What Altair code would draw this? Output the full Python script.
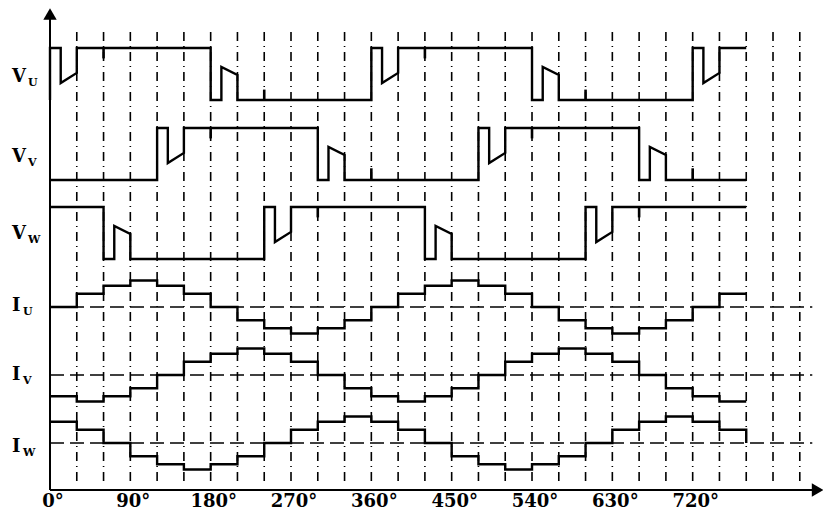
import altair as alt
import pandas as pd

# ---------------- data ----------------
# Phase voltages: breakpoints (electrical angle in degrees) and normalised level (0 = low, 2 = high)
vu_ang = [0, 0, 12, 12, 30, 30, 180, 180, 192, 192, 210, 210, 360, 360, 372, 372, 390, 390,
          540, 540, 552, 552, 570, 570, 720, 720, 732, 732, 750, 750, 780]
vu_lvl = [0, 2, 2, 0.65, 1.04, 2, 2, 0, 0, 1.27, 0.96, 0, 0, 2, 2, 0.65, 1.04, 2,
          2, 0, 0, 1.27, 0.96, 0, 0, 2, 2, 0.65, 1.04, 2, 2]

vv_ang = [0, 120, 120, 132, 132, 150, 150, 300, 300, 312, 312, 330, 330,
          480, 480, 492, 492, 510, 510, 660, 660, 672, 672, 690, 690, 780]
vv_lvl = [0, 0, 2, 2, 0.65, 1.04, 2, 2, 0, 0, 1.27, 0.96, 0,
          0, 2, 2, 0.65, 1.04, 2, 2, 0, 0, 1.27, 0.96, 0, 0]

vw_ang = [0, 60, 60, 72, 72, 90, 90, 240, 240, 252, 252, 270, 270,
          420, 420, 432, 432, 450, 450, 600, 600, 612, 612, 630, 630, 780]
vw_lvl = [2, 2, 0, 0, 1.27, 0.96, 0, 0, 2, 2, 0.65, 1.04, 2,
          2, 0, 0, 1.27, 0.96, 0, 0, 2, 2, 0.65, 1.04, 2, 2]

# short marks on the voltage traces: (angle, from level, to level)
vu_marks = [(60, 2, 1.6), (240, 0, 0.4), (420, 2, 1.6), (600, 0, 0.4)]
vv_marks = [(180, 2, 1.6), (360, 0, 0.45), (540, 2, 1.6), (720, 0, 0.45)]
vw_marks = [(300, 2, 1.6), (660, 2, 1.6)]

# Phase currents: six-step levels, one per 30 degree segment starting at these angles
seg_start = [0, 30, 60, 90, 120, 150, 180, 210, 240, 270, 300, 330, 360,
             390, 420, 450, 480, 510, 540, 570, 600, 630, 660, 690, 720, 750]
iu_lvl = [0, 0.5, 0.8, 1, 0.8, 0.5, 0, -0.5, -0.8, -1, -0.8, -0.5, 0,
          0.5, 0.8, 1, 0.8, 0.5, 0, -0.5, -0.8, -1, -0.8, -0.5, 0, 0.5]
iv_lvl = [-0.8, -1, -0.8, -0.5, 0, 0.5, 0.8, 1, 0.8, 0.5, 0, -0.5, -0.8,
          -1, -0.8, -0.5, 0, 0.5, 0.8, 1, 0.8, 0.5, 0, -0.5, -0.8, -1]
iw_lvl = [0.8, 0.5, 0, -0.5, -0.8, -1, -0.8, -0.5, 0, 0.5, 0.8, 1, 0.8,
          0.5, 0, -0.5, -0.8, -1, -0.8, -0.5, 0, 0.5, 0.8, 1, 0.8, 0.5]
trace_end = 780
iu_end, iv_end, iw_end = 0.5, -1, 0

grid_ang = [30, 60, 90, 120, 150, 180, 210, 240, 270, 300, 330, 360, 390, 420,
            450, 480, 510, 540, 570, 600, 630, 660, 690, 720, 750, 780, 810, 840]
tick_ang = [0, 90, 180, 270, 360, 450, 540, 630, 720]
tick_txt = ["0°", "90°", "180°", "270°", "360°", "450°", "540°", "630°", "720°"]

labels_main = ["V", "V", "V", "I", "I", "I"]
labels_sub = ["U", "V", "W", "U", "V", "W"]

# ---------------- layout ----------------
W = 773
H = 482                     # plot height in px (data unit = 1 px)
V_OFF = {"U": 390, "V": 310, "W": 231}
I_OFF = {"U": 183, "V": 115, "W": 47}
V_GAIN = 26
I_GAIN = 26.5
LABEL_BASE = [408, 328, 251, 179, 110, 38]   # baseline of side labels (data units)
FONT = "DejaVu Serif"

vrows = []
for name, angs, lvls in [("U", vu_ang, vu_lvl), ("V", vv_ang, vv_lvl), ("W", vw_ang, vw_lvl)]:
    for i, (a, l) in enumerate(zip(angs, lvls)):
        vrows.append({"trace": "V" + name, "i": i, "ang": a, "y": V_OFF[name] + V_GAIN * l})
vdf = pd.DataFrame(vrows)

mrows = []
for name, marks in [("U", vu_marks), ("V", vv_marks), ("W", vw_marks)]:
    for a, l0, l1 in marks:
        mrows.append({"ang": a, "y": V_OFF[name] + V_GAIN * l0, "y2": V_OFF[name] + V_GAIN * l1})
mdf = pd.DataFrame(mrows)

irows = []
for name, lvls, endv in [("U", iu_lvl, iu_end), ("V", iv_lvl, iv_end), ("W", iw_lvl, iw_end)]:
    for i, (a, l) in enumerate(zip(seg_start, lvls)):
        irows.append({"trace": "I" + name, "i": i, "ang": a, "y": I_OFF[name] + I_GAIN * l})
    irows.append({"trace": "I" + name, "i": len(lvls), "ang": trace_end, "y": I_OFF[name] + I_GAIN * endv})
idf = pd.DataFrame(irows)

zdf = pd.DataFrame({"x0": [0, 0, 0], "x1": [854, 854, 854],
                    "y": [I_OFF["U"], I_OFF["V"], I_OFF["W"]]})
gdf = pd.DataFrame({"ang": grid_ang})
tdf = pd.DataFrame({"ang": tick_ang, "txt": tick_txt})
ldf = pd.DataFrame({"main": labels_main, "sub": labels_sub, "y": LABEL_BASE})

xs = alt.Scale(domain=[0, 866], nice=False, zero=False)
ys = alt.Scale(domain=[0, H], nice=False, zero=False)
X = lambda f: alt.X(f, scale=xs, axis=None)
Y = lambda f: alt.Y(f, scale=ys, axis=None)

grid = alt.Chart(gdf).mark_rule(color="black", strokeWidth=1.6, strokeDash=[9, 5, 1, 5]).encode(
    x=X("ang:Q"), y=alt.value(24), y2=alt.value(477))

zero = alt.Chart(zdf).mark_rule(color="black", strokeWidth=1.3, strokeDash=[14, 6]).encode(
    x=X("x0:Q"), x2="x1:Q", y=Y("y:Q"))

vlines = alt.Chart(vdf).mark_line(color="black", strokeWidth=2.4, strokeJoin="miter").encode(
    x=X("ang:Q"), y=Y("y:Q"), detail="trace:N", order="i:Q")

vmarks = alt.Chart(mdf).mark_rule(color="black", strokeWidth=2.6).encode(
    x=X("ang:Q"), y=Y("y:Q"), y2="y2:Q")

ilines = alt.Chart(idf).mark_line(color="black", strokeWidth=2.4, interpolate="step-after").encode(
    x=X("ang:Q"), y=Y("y:Q"), detail="trace:N", order="i:Q")

axes_df = pd.DataFrame({"x0": [0, 0], "x1": [0, 860], "y0": [0, 0], "y1": [476, 0]})
axes = alt.Chart(axes_df).mark_rule(color="black", strokeWidth=2).encode(
    x=X("x0:Q"), x2="x1:Q", y=Y("y0:Q"), y2="y1:Q")

arr_df = pd.DataFrame({"ang": [0, 860], "y": [476, 0], "shape": ["triangle-up", "triangle-right"]})
arrows = alt.Chart(arr_df).mark_point(filled=True, color="black", opacity=1, size=180, strokeWidth=0).encode(
    x=X("ang:Q"), y=Y("y:Q"),
    shape=alt.Shape("shape:N", scale=None, legend=None))

ticks = alt.Chart(tdf).mark_text(font=FONT, fontWeight="bold", fontSize=18, align="center",
                                 baseline="alphabetic", dx=3, color="black").encode(
    x=X("ang:Q"), y=alt.value(499), text="txt:N")

lab_main = alt.Chart(ldf).mark_text(font=FONT, fontWeight="bold", fontSize=18, align="left",
                                    baseline="alphabetic", color="black").encode(
    x=alt.value(-38), y=Y("y:Q"), text="main:N")

sub_base = alt.Chart(ldf).transform_calculate(ys="datum.y - 4")
lab_sub_v = sub_base.transform_filter("datum.main == 'V'").mark_text(
    font=FONT, fontWeight="bold", fontSize=11, align="left", baseline="alphabetic", color="black").encode(
    x=alt.value(-22), y=Y("ys:Q"), text="sub:N")
lab_sub_i = sub_base.transform_filter("datum.main == 'I'").mark_text(
    font=FONT, fontWeight="bold", fontSize=11, align="left", baseline="alphabetic", color="black").encode(
    x=alt.value(-27), y=Y("ys:Q"), text="sub:N")

chart = alt.layer(grid, zero, axes, vlines, vmarks, ilines, arrows, ticks, lab_main,
                  lab_sub_v, lab_sub_i).properties(
    width=W, height=H,
    autosize=alt.AutoSizeParams(type="none"),
    padding={"left": 42, "top": 0, "right": 0, "bottom": 22},
    background="white",
).configure_view(stroke=None)

chart.save("out.html", embed_options={"renderer": "svg", "actions": False})
